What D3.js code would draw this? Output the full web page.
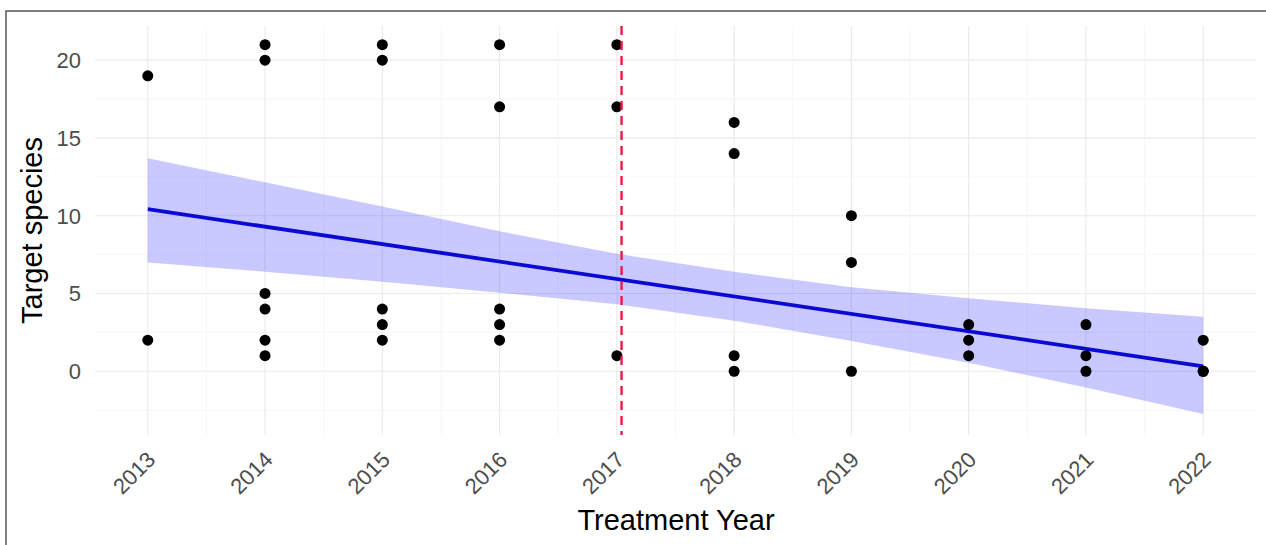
<!DOCTYPE html>
<html>
<head>
<meta charset="utf-8">
<script src="https://cdn.jsdelivr.net/npm/d3@7"></script>
<style>
    body { margin: 0; background: #fff; }
    svg { display: block; font-family: "Liberation Sans", Arial, sans-serif; }
</style>
</head>
<body>
<div id="chart"></div>
<script>
const obsYear = [
    2013, 2013,
    2014, 2014, 2014, 2014, 2014, 2014,
    2015, 2015, 2015, 2015, 2015,
    2016, 2016, 2016, 2016, 2016,
    2017, 2017, 2017,
    2018, 2018, 2018, 2018,
    2019, 2019, 2019,
    2020, 2020, 2020,
    2021, 2021, 2021,
    2022, 2022, 2022
];
const obsCount = [
    19, 2,
    21, 20, 5, 4, 2, 1,
    21, 20, 4, 3, 2,
    21, 17, 4, 3, 2,
    21, 17, 1,
    16, 14, 1, 0,
    10, 7, 0,
    3, 2, 1,
    3, 1, 0,
    2, 0, 0
];

// linear fit and its confidence band
const fitYears = [2013, 2022];
const fitValues = [10.42, 0.32];
const bandYears = [2013, 2014, 2015, 2016, 2017, 2018, 2019, 2020, 2021, 2022];
const bandUpper = [13.7, 12.15, 10.6, 9.0, 7.55, 6.4, 5.4, 4.7, 4.05, 3.5];
const bandLower = [7.0, 6.4, 5.75, 5.05, 4.3, 3.25, 1.95, 0.55, -1.05, -2.75];

const treatmentYear = 2017.04;

const xTicks = [2013, 2014, 2015, 2016, 2017, 2018, 2019, 2020, 2021, 2022];
const xMinor = [2013.5, 2014.5, 2015.5, 2016.5, 2017.5, 2018.5, 2019.5, 2020.5, 2021.5];
const yTicks = [0, 5, 10, 15, 20];
const yMinor = [-2.5, 2.5, 7.5, 12.5, 17.5];

const width = 1266;
const height = 545;
const panel = { left: 95, right: 1256, top: 26, bottom: 435 };

const svg = d3.select("#chart")
    .append("svg")
    .attr("width", width)
    .attr("height", height);

const x = d3.scaleLinear().domain([2012.55, 2022.45]).range([panel.left, panel.right]);
const y = d3.scaleLinear().domain([-4.1, 22.2]).range([panel.bottom, panel.top]);

// grid
const grid = svg.append("g");
grid.selectAll(".minor-x")
    .data(xMinor)
    .enter().append("line")
    .attr("x1", d => x(d)).attr("x2", d => x(d))
    .attr("y1", panel.top).attr("y2", panel.bottom)
    .attr("stroke", "#f4f4f4").attr("stroke-width", 0.7);
grid.selectAll(".minor-y")
    .data(yMinor)
    .enter().append("line")
    .attr("x1", panel.left).attr("x2", panel.right)
    .attr("y1", d => y(d)).attr("y2", d => y(d))
    .attr("stroke", "#f4f4f4").attr("stroke-width", 0.7);
grid.selectAll(".major-x")
    .data(xTicks)
    .enter().append("line")
    .attr("x1", d => x(d)).attr("x2", d => x(d))
    .attr("y1", panel.top).attr("y2", panel.bottom)
    .attr("stroke", "#ebebeb").attr("stroke-width", 1.2);
grid.selectAll(".major-y")
    .data(yTicks)
    .enter().append("line")
    .attr("x1", panel.left).attr("x2", panel.right)
    .attr("y1", d => y(d)).attr("y2", d => y(d))
    .attr("stroke", "#ebebeb").attr("stroke-width", 1.2);

// confidence band
const band = d3.area()
    .x((d, i) => x(bandYears[i]))
    .y0((d, i) => y(bandLower[i]))
    .y1((d, i) => y(bandUpper[i]));

svg.append("path")
    .datum(bandYears)
    .attr("d", band)
    .attr("fill", "#0000ff")
    .attr("fill-opacity", 0.21);

// fitted line
const line = d3.line()
    .x((d, i) => x(fitYears[i]))
    .y((d, i) => y(fitValues[i]));

svg.append("path")
    .datum(fitYears)
    .attr("d", line)
    .attr("fill", "none")
    .attr("stroke", "#0a0ad2")
    .attr("stroke-width", 3.8);

// points
svg.append("g")
    .selectAll("circle")
    .data(obsYear)
    .enter().append("circle")
    .attr("cx", d => x(d))
    .attr("cy", (d, i) => y(obsCount[i]))
    .attr("r", 5.5)
    .attr("fill", "#000");

// treatment marker
svg.append("line")
    .attr("x1", x(treatmentYear)).attr("x2", x(treatmentYear))
    .attr("y1", panel.top).attr("y2", panel.bottom)
    .attr("stroke", "#f01848")
    .attr("stroke-width", 2.4)
    .attr("stroke-dasharray", "9,6");

// y tick labels
svg.append("g")
    .selectAll("text")
    .data(yTicks)
    .enter().append("text")
    .attr("x", 81)
    .attr("y", d => y(d))
    .attr("dy", "0.36em")
    .attr("text-anchor", "end")
    .attr("fill", "#4d4d4d")
    .style("font-size", "22px")
    .text(d => d);

// x tick labels, rotated
svg.append("g")
    .selectAll("text")
    .data(xTicks)
    .enter().append("text")
    .attr("transform", d => `translate(${x(d) + 9},${panel.bottom + 26}) rotate(-45)`)
    .attr("text-anchor", "end")
    .attr("fill", "#4d4d4d")
    .style("font-size", "22px")
    .text(d => d);

// axis titles
svg.append("text")
    .attr("x", 676)
    .attr("y", 530)
    .attr("text-anchor", "middle")
    .attr("fill", "#000")
    .style("font-size", "29px")
    .text("Treatment Year");

svg.append("text")
    .attr("transform", `translate(42,${(panel.top + panel.bottom) / 2}) rotate(-90)`)
    .attr("text-anchor", "middle")
    .attr("fill", "#000")
    .style("font-size", "29px")
    .text("Target species");

// frame edges visible in the picture
svg.append("path")
    .attr("d", `M6,${height} V11 H${width}`)
    .attr("fill", "none")
    .attr("stroke", "#555")
    .attr("stroke-width", 1.5);
</script>
</body>
</html>
